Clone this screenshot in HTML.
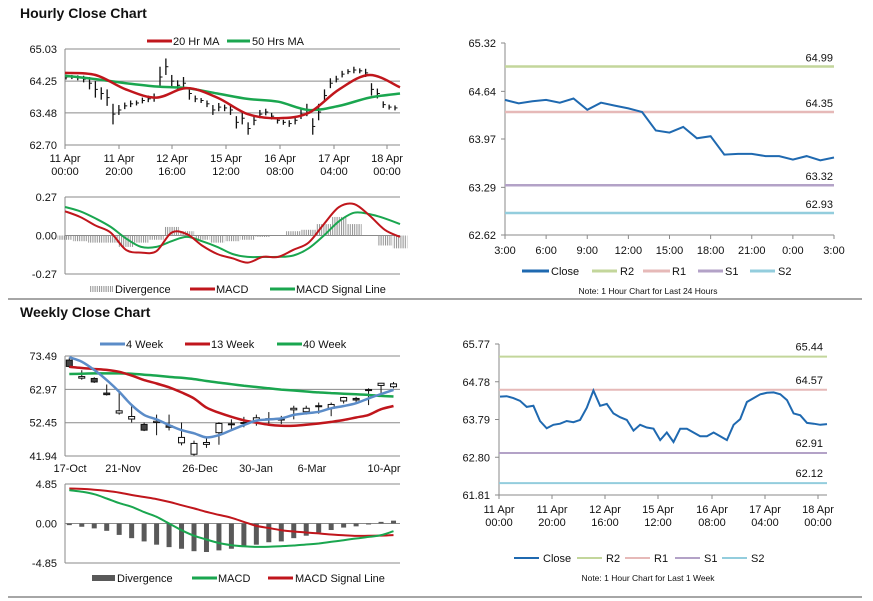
<!DOCTYPE html>
<html><head><meta charset="utf-8">
<style>
html,body{margin:0;padding:0;background:#fff;}
svg{display:block;font-family:"Liberation Sans",Arial,sans-serif;}
text{fill:#111;}
</style></head>
<body>
<svg id="root" width="873" height="601" viewBox="0 0 873 601" xmlns="http://www.w3.org/2000/svg">
<defs>
<pattern id="hatch" patternUnits="userSpaceOnUse" width="2.2" height="4"><rect x="0" y="0" width="1" height="4" fill="#8f8f8f"/></pattern>
</defs>
<line x1="8" y1="299" x2="862" y2="299" stroke="#888" stroke-width="1.5"/>
<line x1="8" y1="597" x2="862" y2="597" stroke="#888" stroke-width="1.5"/>
<text x="20" y="18" font-size="14" font-weight="bold">Hourly Close Chart</text>
<text x="20" y="317" font-size="14" font-weight="bold">Weekly Close Chart</text>
</svg>
<script>
// ---------- DATA ----------
const hCloses=[64.35,64.35,64.33,64.30,64.20,64.05,63.95,63.85,63.45,63.55,63.65,63.70,63.72,63.78,63.82,63.85,64.35,64.60,64.25,64.15,64.20,63.95,63.82,63.78,63.70,63.55,63.62,63.60,63.55,63.25,63.35,63.10,63.30,63.45,63.50,63.40,63.30,63.25,63.22,63.30,63.45,63.55,63.15,63.50,63.90,64.20,64.30,64.42,64.48,64.52,64.50,64.45,64.05,63.95,63.68,63.62,63.60];
const hSpread=[0.06,0.05,0.06,0.08,0.15,0.2,0.15,0.2,0.25,0.12,0.08,0.08,0.06,0.07,0.08,0.1,0.25,0.2,0.15,0.12,0.15,0.15,0.08,0.06,0.08,0.12,0.1,0.08,0.12,0.15,0.15,0.15,0.12,0.1,0.08,0.08,0.08,0.06,0.08,0.1,0.12,0.15,0.2,0.2,0.15,0.12,0.08,0.08,0.06,0.08,0.06,0.1,0.15,0.12,0.08,0.06,0.06];
const hMA20=[64.45,64.40,64.05,63.85,64.08,63.85,63.45,63.35,63.48,64.05,64.40,64.10];
const hMA50=[64.38,64.30,64.20,64.12,64.08,63.95,63.82,63.75,63.55,63.65,63.85,63.95];
const hTicks=["65.03","64.25","63.48","62.70"];
const hXLabels=[["11 Apr","00:00"],["11 Apr","20:00"],["12 Apr","16:00"],["15 Apr","12:00"],["16 Apr","08:00"],["17 Apr","04:00"],["18 Apr","00:00"]];
const hMacd=[0.17,0.13,0.07,0.02,-0.10,-0.12,-0.11,0.02,0.01,-0.07,-0.13,-0.16,-0.19,-0.15,-0.15,-0.10,-0.05,0.08,0.20,0.22,0.14,0.04,-0.01];
const hSignal=[0.20,0.17,0.12,0.06,-0.02,-0.08,-0.08,-0.04,-0.01,-0.04,-0.08,-0.13,-0.15,-0.15,-0.15,-0.14,-0.09,0.00,0.10,0.16,0.15,0.12,0.08];
const hDiv=[-0.03,-0.04,-0.05,-0.05,-0.08,-0.05,-0.03,0.06,0.03,-0.03,-0.05,-0.04,-0.03,-0.01,0.00,0.03,0.04,0.08,0.13,0.08,0.00,-0.07,-0.09];
const hMacdTicks=["0.27","0.00","-0.27"];
const dLabels=["3:00","6:00","9:00","12:00","15:00","18:00","21:00","0:00","3:00"];
const dClose=[64.52,64.47,64.50,64.52,64.48,64.54,64.38,64.48,64.44,64.40,64.35,64.09,64.06,64.14,63.98,64.01,63.75,63.76,63.76,63.73,63.73,63.68,63.73,63.67,63.71];
const dLevels=[64.99,64.35,63.32,62.93];
const dTicks=["65.32","64.64","63.97","63.29","62.62"];
const wkClose=[64.39,64.40,64.35,64.28,64.12,64.15,63.75,63.56,63.65,63.68,63.75,63.72,63.78,64.10,64.55,64.15,64.20,63.95,63.85,63.78,63.50,63.65,63.58,63.55,63.25,63.45,63.20,63.55,63.55,63.45,63.35,63.35,63.45,63.35,63.25,63.65,63.80,64.25,64.35,64.45,64.49,64.50,64.45,64.30,63.95,63.90,63.70,63.68,63.65,63.67];
const wkLevels=[65.44,64.57,62.91,62.12];
const wkTicks=["65.77","64.78","63.79","62.80","61.81"];
const wOpen=[72.2,66.5,66.4,61.8,55.5,53.6,51.9,52.5,51.5,46.1,42.5,45.6,49.3,51.8,52.2,53.1,53.4,53.3,56.5,55.9,57.5,57.0,59.3,60.1,62.6,64.2,63.8];
const wClose=[70.2,67.0,65.3,61.3,56.2,54.4,50.1,52.9,51.0,47.8,45.9,46.2,52.2,52.1,52.5,54.0,53.7,53.6,57.0,57.0,57.8,58.2,60.4,59.6,62.9,64.9,64.7];
const wHigh=[73.0,69.0,66.8,64.5,62.0,58.0,52.5,55.0,55.0,52.5,46.8,47.5,52.6,53.5,54.3,55.0,55.8,54.6,57.8,57.8,58.8,58.8,60.6,60.6,63.3,65.0,65.3];
const wLow=[69.8,66.0,65.0,61.0,55.0,52.5,49.8,48.5,50.0,45.3,42.0,44.5,45.5,50.5,51.0,51.5,51.5,52.0,53.5,55.0,55.3,54.5,58.5,59.0,58.0,61.8,63.3];
const w4=[73.1,71.7,69.1,65.9,62.2,58.0,54.9,53.5,51.7,50.1,49.1,47.8,48.5,50.1,51.7,53.1,53.5,53.8,54.9,55.4,55.9,57.0,57.7,58.6,60.1,61.5,62.8];
const w13=[70.1,69.7,69.4,69.1,68.5,67.3,65.9,64.8,63.6,62.0,60.1,57.2,55.6,54.3,53.2,52.45,51.8,51.5,51.5,51.8,52.2,52.7,53.3,54.1,54.9,56.7,57.7];
const w40=[67.8,67.9,68.0,68.0,68.0,67.9,67.6,67.3,66.9,66.6,66.2,65.6,65.1,64.6,64.1,63.7,63.3,62.9,62.6,62.3,62.0,61.8,61.6,61.4,61.2,60.9,60.7];
const wTicks=["73.49","62.97","52.45","41.94"];
const wXLabels=["17-Oct","21-Nov","26-Dec","30-Jan","6-Mar","10-Apr"];
const wMacd=[4.1,3.9,3.6,3.07,2.5,2.05,1.4,0.82,0.0,-0.82,-1.5,-1.97,-2.4,-2.66,-2.8,-2.87,-2.85,-2.79,-2.7,-2.58,-2.45,-2.25,-2.05,-1.84,-1.65,-1.43,-0.94];
const wSignal=[4.3,4.25,4.15,4.0,3.8,3.5,3.25,3.0,2.65,2.25,1.85,1.43,1.05,0.7,0.2,-0.29,-0.55,-0.82,-0.98,-1.1,-1.22,-1.35,-1.45,-1.52,-1.5,-1.48,-1.43];
const wDiv=[-0.2,-0.4,-0.6,-0.9,-1.4,-1.8,-2.2,-2.6,-2.9,-3.1,-3.4,-3.5,-3.3,-3.1,-2.9,-2.6,-2.3,-2.2,-1.8,-1.5,-1.1,-0.8,-0.5,-0.35,-0.1,0.2,0.35];
const wMacdTicks=["4.85","0.00","-4.85"];

// ---------- HELPERS ----------
const NS="http://www.w3.org/2000/svg";
const root=document.getElementById('root');
function el(tag,attrs,parent){const e=document.createElementNS(NS,tag);for(const k in attrs)e.setAttribute(k,attrs[k]);(parent||root).appendChild(e);return e;}
function lin(d0,d1,r0,r1){return v=>r0+(v-d0)*(r1-r0)/(d1-d0);}
function smoothPath(pts){let d="M"+pts[0][0]+","+pts[0][1];for(let i=0;i<pts.length-1;i++){const p0=pts[i-1]||pts[i],p1=pts[i],p2=pts[i+1],p3=pts[i+2]||p2;const c1=[p1[0]+(p2[0]-p0[0])/6,p1[1]+(p2[1]-p0[1])/6],c2=[p2[0]-(p3[0]-p1[0])/6,p2[1]-(p3[1]-p1[1])/6];d+=" C"+c1[0].toFixed(1)+","+c1[1].toFixed(1)+" "+c2[0].toFixed(1)+","+c2[1].toFixed(1)+" "+p2[0].toFixed(1)+","+p2[1].toFixed(1);}return d;}
function polyPath(pts){return "M"+pts.map(p=>p[0].toFixed(1)+","+p[1].toFixed(1)).join(" L");}
function txt(x,y,s,size,anchor){const t=el('text',{x:x,y:y,'font-size':size||11,'text-anchor':anchor||'start'});t.textContent=s;return t;}

// ---------- HOURLY PRICE ----------
(function(){
 const x0=65,x1=400,y=lin(62.70,65.03,145,49);
 const g=el('g',{});
 
 
 hTicks.forEach(t=>{const v=parseFloat(t);const l=el('line',{x1:x0,x2:x1,y1:y(v),y2:y(v),stroke:'#8a8a8a','stroke-width':1},g);
  
  
  const tl=txt(57,y(v)+4,t,11,'end');g.appendChild(tl);
  
  });
 el('line',{x1:x0,x2:x0,y1:49,y2:145,stroke:'#8a8a8a'},g);
 const tx=[65,119,172,226,280,334,387];
 hXLabels.forEach((lb,i)=>{el('line',{x1:tx[i],x2:tx[i],y1:145,y2:149,stroke:'#8a8a8a'},g);
  const a=txt(tx[i],162,lb[0],11,'middle');g.appendChild(a);
  
  
  const b=txt(tx[i],175,lb[1],11,'middle');g.appendChild(b);
  
  });
 const n=hCloses.length,cx=i=>66+i*(329/(n-1));
 hCloses.forEach((c,i)=>{const bar=el('line',{x1:cx(i),x2:cx(i),y1:y(c+hSpread[i]),y2:y(c-hSpread[i]),stroke:'#111','stroke-width':1.3},g);
  
  
  el('line',{x1:cx(i),x2:cx(i)+2.5,y1:y(c),y2:y(c),stroke:'#111','stroke-width':1},g);});
 const mx=(arr)=>arr.map((v,i)=>[x0+i*(x1-x0)/(arr.length-1),y(v)]);
 const m50=el('path',{d:smoothPath(mx(hMA50)),fill:'none',stroke:'#1aa64f','stroke-width':2.5},g);
 
 
 const m20=el('path',{d:smoothPath(mx(hMA20)),fill:'none',stroke:'#c0161c','stroke-width':2.5},g);
 
 
 const l1=el('line',{x1:147,x2:172,y1:41,y2:41,stroke:'#c0161c','stroke-width':3},g);
 
 
 g.appendChild(txt(173,45,"20 Hr MA",11));
 const l2=el('line',{x1:227,x2:250,y1:41,y2:41,stroke:'#1aa64f','stroke-width':3},g);
 
 
 g.appendChild(txt(252,45,"50 Hrs MA",11));
})();

// ---------- HOURLY MACD ----------
(function(){
 const x0=65,x1=400,y=lin(-0.27,0.27,274,197);
 const g=el('g',{});
 
 
 hMacdTicks.forEach(t=>{const v=parseFloat(t);el('line',{x1:x0,x2:x1,y1:y(v),y2:y(v),stroke:'#8a8a8a'},g);
  const tl=txt(57,y(v)+4,t,11,'end');g.appendChild(tl);
  
  });
 el('line',{x1:x0,x2:x0,y1:197,y2:274,stroke:'#8a8a8a'},g);
 const n=hDiv.length,bx=i=>x0+i*(x1-x0)/(n-1);
 hDiv.forEach((v,i)=>{const r=el('rect',{x:bx(i)-7.3,width:14.6,y:Math.min(y(v),y(0)),height:Math.abs(y(v)-y(0)),fill:'url(#hatch)'},g);
  
  });
 const mx=(arr)=>arr.map((v,i)=>[x0+i*(x1-x0)/(arr.length-1),y(v)]);
 const s=el('path',{d:smoothPath(mx(hSignal)),fill:'none',stroke:'#1aa64f','stroke-width':2},g);
 
 
 const m=el('path',{d:smoothPath(mx(hMacd)),fill:'none',stroke:'#c0161c','stroke-width':2},g);
 
 
 const r=el('rect',{x:90,y:286,width:23,height:6,fill:'url(#hatch)'},g);
 
 
 g.appendChild(txt(115,293,"Divergence",11));
 el('line',{x1:190,x2:215,y1:289,y2:289,stroke:'#c0161c','stroke-width':3},g);
 g.appendChild(txt(216,293,"MACD",11));
 el('line',{x1:270,x2:295,y1:289,y2:289,stroke:'#1aa64f','stroke-width':3},g);
 g.appendChild(txt(296,293,"MACD Signal Line",11));
})();

// ---------- 24H CHART ----------
(function(){
 const x0=505,x1=834,y=lin(62.62,65.32,235,43);
 const g=el('g',{});
 
 
 dTicks.forEach(t=>{const v=parseFloat(t);el('line',{x1:x0-4,x2:x0,y1:y(v),y2:y(v),stroke:'#8a8a8a'},g);
  const tl=txt(496,y(v)+4,t,11,'end');g.appendChild(tl);
  
  });
 el('line',{x1:x0,x2:x0,y1:43,y2:235,stroke:'#8a8a8a'},g);
 el('line',{x1:x0,x2:x1,y1:235,y2:235,stroke:'#8a8a8a'},g);
 dLabels.forEach((lb,i)=>{const xx=x0+i*(x1-x0)/(dLabels.length-1);el('line',{x1:xx,x2:xx,y1:235,y2:239,stroke:'#8a8a8a'},g);
  const t=txt(xx,254,lb,11,'middle');g.appendChild(t);
  
  });
 const cols=['#c3d69b','#e6b9b8','#b3a2c7','#93cddd'];
 dLevels.forEach((v,i)=>{const l=el('line',{x1:x0,x2:x1,y1:y(v),y2:y(v),stroke:cols[i],'stroke-width':2.5},g);
  
  
  g.appendChild(txt(833,y(v)-5,v.toFixed(2),11,'end'));});
 const pts=dClose.map((v,i)=>[x0+i*(x1-x0)/(dClose.length-1),y(v)]);
 const p=el('path',{d:polyPath(pts),fill:'none',stroke:'#1f69b0','stroke-width':2},g);
 
 
 const lg=[[522,549,'#1f69b0','Close',551],[592,617,cols[0],'R2',620],[643,670,cols[1],'R1',672],[698,723,cols[2],'S1',725],[750,775,cols[3],'S2',778]];
 lg.forEach(a=>{const l=el('line',{x1:a[0],x2:a[1],y1:271,y2:271,stroke:a[2],'stroke-width':3},g);
  
  
  g.appendChild(txt(a[4],275,a[3],11));});
 g.appendChild(txt(648,294,"Note: 1 Hour Chart for Last 24 Hours",8.5,'middle'));
})();

// ---------- 1 WEEK CHART ----------
(function(){
 const x0=499,x1=827,y=lin(61.81,65.77,495,344);
 const g=el('g',{});
 
 
 wkTicks.forEach(t=>{const v=parseFloat(t);el('line',{x1:x0-4,x2:x0,y1:y(v),y2:y(v),stroke:'#8a8a8a'},g);
  const tl=txt(490,y(v)+4,t,11,'end');g.appendChild(tl);
  
  });
 el('line',{x1:x0,x2:x0,y1:344,y2:495,stroke:'#8a8a8a'},g);
 el('line',{x1:x0,x2:x1,y1:495,y2:495,stroke:'#8a8a8a'},g);
 const tx=[499,552,605,658,712,765,818];
 hXLabels.forEach((lb,i)=>{el('line',{x1:tx[i],x2:tx[i],y1:495,y2:499,stroke:'#8a8a8a'},g);
  const a=txt(tx[i],513,lb[0],11,'middle');g.appendChild(a);
  
  
  g.appendChild(txt(tx[i],526,lb[1],11,'middle'));});
 const cols=['#c3d69b','#e6b9b8','#b3a2c7','#93cddd'];
 wkLevels.forEach((v,i)=>{const l=el('line',{x1:x0,x2:x1,y1:y(v),y2:y(v),stroke:cols[i],'stroke-width':2},g);
  
  
  g.appendChild(txt(823,y(v)-6,v.toFixed(2),11,'end'));});
 const pts=wkClose.map((v,i)=>[x0+1+i*(x1-x0-1)/(wkClose.length-1),y(v)]);
 const p=el('path',{d:polyPath(pts),fill:'none',stroke:'#1f69b0','stroke-width':2},g);
 
 
 const lg=[[514,539,'#1f69b0','Close',543],[577,602,cols[0],'R2',606],[625,650,cols[1],'R1',654],[675,700,cols[2],'S1',704],[722,747,cols[3],'S2',751]];
 lg.forEach(a=>{const l=el('line',{x1:a[0],x2:a[1],y1:558,y2:558,stroke:a[2],'stroke-width':2},g);
  
  
  g.appendChild(txt(a[4],562,a[3],11));});
 g.appendChild(txt(648,581,"Note: 1 Hour Chart for Last 1 Week",8.5,'middle'));
})();

// ---------- WEEKLY CANDLES ----------
(function(){
 const x0=65,x1=400,y=lin(41.94,73.49,456,356);
 const g=el('g',{});
 
 
 wTicks.forEach(t=>{const v=parseFloat(t);el('line',{x1:x0,x2:x1,y1:y(v),y2:y(v),stroke:'#8a8a8a'},g);
  const tl=txt(57,y(v)+4,t,11,'end');g.appendChild(tl);
  
  });
 el('line',{x1:x0,x2:x0,y1:356,y2:456,stroke:'#8a8a8a'},g);
 const lx=[70,123,200,256,312,384];
 wXLabels.forEach((lb,i)=>{const t=txt(lx[i],472,lb,11,'middle');g.appendChild(t);
  
  });
 const n=wOpen.length,cx=i=>69.3+i*12.47;
 for(let i=0;i<n;i++){
  el('line',{x1:cx(i),x2:cx(i),y1:y(wHigh[i]),y2:y(wLow[i]),stroke:'#111','stroke-width':1},g);
  const top=Math.max(wOpen[i],wClose[i]),bot=Math.min(wOpen[i],wClose[i]);
  const r=el('rect',{x:cx(i)-3,width:6,y:y(top),height:Math.max(1,y(bot)-y(top)),fill:wClose[i]<wOpen[i]?'#444':'#fff',stroke:'#111','stroke-width':1},g);
  
  
 }
 const mx=(arr)=>arr.map((v,i)=>[cx(i),y(v)]);
 [[w40,'#1aa64f','ma40-line'],[w13,'#c0161c','ma13-line'],[w4,'#5b8cc8','ma4-line']].forEach(a=>{
  const p=el('path',{d:smoothPath(mx(a[0])),fill:'none',stroke:a[1],'stroke-width':2.5},g);
  
  });
 const lg=[[100,125,'#5b8cc8','4 Week',126],[185,210,'#c0161c','13 Week',211],[277,302,'#1aa64f','40 Week',303]];
 lg.forEach(a=>{const l=el('line',{x1:a[0],x2:a[1],y1:344,y2:344,stroke:a[2],'stroke-width':3},g);
  
  
  g.appendChild(txt(a[4],348,a[3],11));});
})();

// ---------- WEEKLY MACD ----------
(function(){
 const x0=65,x1=400,y=lin(-4.85,4.85,563,484);
 const g=el('g',{});
 
 
 wMacdTicks.forEach(t=>{const v=parseFloat(t);el('line',{x1:x0,x2:x1,y1:y(v),y2:y(v),stroke:'#8a8a8a'},g);
  const tl=txt(57,y(v)+4,t,11,'end');g.appendChild(tl);
  
  });
 el('line',{x1:x0,x2:x0,y1:484,y2:563,stroke:'#8a8a8a'},g);
 const cx=i=>69.3+i*12.47;
 wDiv.forEach((v,i)=>{const r=el('rect',{x:cx(i)-2.5,width:5,y:Math.min(y(v),y(0)),height:Math.max(1,Math.abs(y(v)-y(0))),fill:'#595959'},g);
  
  });
 const mx=(arr)=>arr.map((v,i)=>[cx(i),y(v)]);
 const s=el('path',{d:smoothPath(mx(wSignal)),fill:'none',stroke:'#c0161c','stroke-width':2},g);
 
 
 const m=el('path',{d:smoothPath(mx(wMacd)),fill:'none',stroke:'#1aa64f','stroke-width':2},g);
 
 
 const r=el('rect',{x:92,y:575,width:23,height:6,fill:'#595959'},g);
 
 
 g.appendChild(txt(117,582,"Divergence",11));
 el('line',{x1:192,x2:217,y1:578,y2:578,stroke:'#1aa64f','stroke-width':3},g);
 g.appendChild(txt(218,582,"MACD",11));
 el('line',{x1:268,x2:293,y1:578,y2:578,stroke:'#c0161c','stroke-width':3},g);
 g.appendChild(txt(295,582,"MACD Signal Line",11));
})();
</script>
</body></html>
